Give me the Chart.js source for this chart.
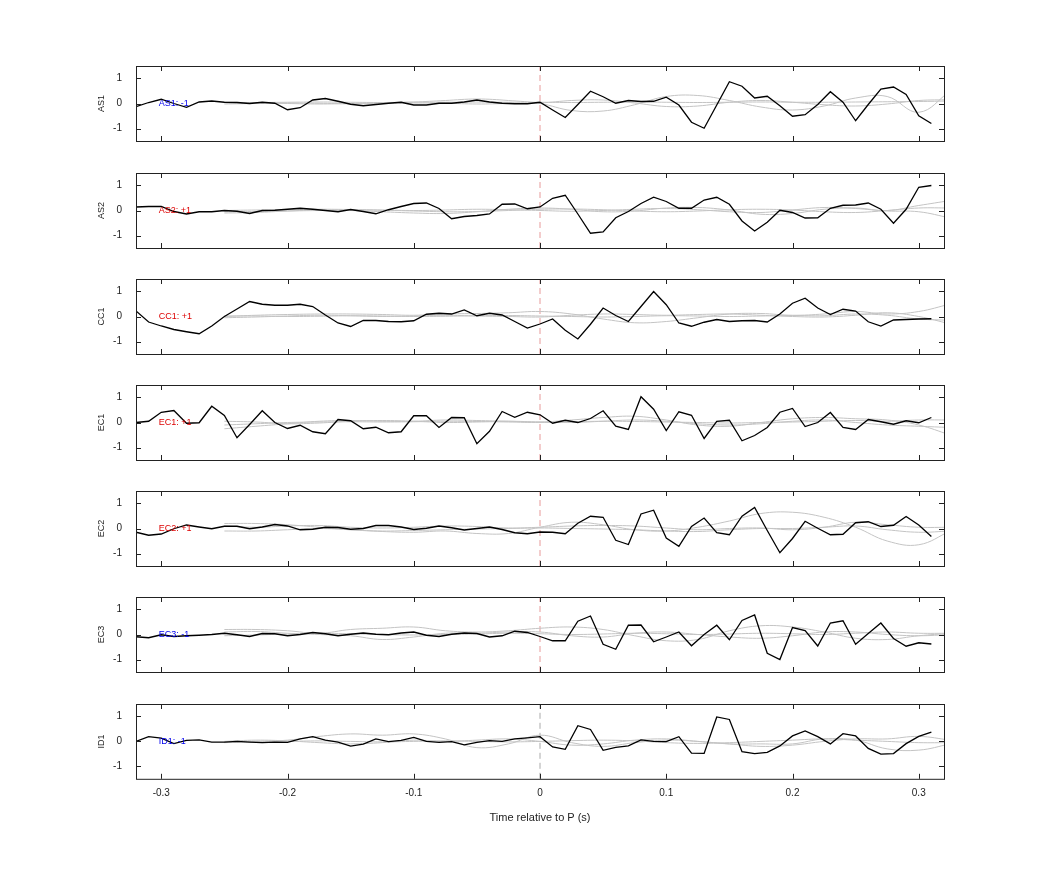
<!DOCTYPE html>
<html>
<head>
<meta charset="utf-8">
<script src="https://cdn.jsdelivr.net/npm/chart.js@4"></script>
<style>
  body { margin: 0; background: #fff; width: 1042px; height: 875px; position: relative; overflow: hidden; }
  .panel { position: absolute; left: 0; width: 1042px; }
</style>
</head>
<body>
<script>
// time axis of the black traces: -0.32 .. 0.31 s, 0.01 s apart
const times = [-0.32,-0.31,-0.30,-0.29,-0.28,-0.27,-0.26,-0.25,-0.24,-0.23,-0.22,-0.21,-0.20,-0.19,-0.18,-0.17,
  -0.16,-0.15,-0.14,-0.13,-0.12,-0.11,-0.10,-0.09,-0.08,-0.07,-0.06,-0.05,-0.04,-0.03,-0.02,-0.01,
  0.00,0.01,0.02,0.03,0.04,0.05,0.06,0.07,0.08,0.09,0.10,0.11,0.12,0.13,0.14,0.15,
  0.16,0.17,0.18,0.19,0.20,0.21,0.22,0.23,0.24,0.25,0.26,0.27,0.28,0.29,0.30,0.31];
// time axis of the grey traces
const greyTimes = [-0.25,-0.225,-0.2,-0.175,-0.15,-0.125,-0.1,-0.075,-0.05,-0.025,0,0.025,
  0.05,0.075,0.1,0.125,0.15,0.175,0.2,0.225,0.25,0.275,0.3,0.325];

const stations = ['AS1','AS2','CC1','EC1','EC2','EC3','ID1'];
const polarity = ['-1','+1','+1','+1','+1','-1','-1'];
const xTicks = [-0.3,-0.2,-0.1,0,0.1,0.2,0.3];
const yTicks = [-1,0,1];

const AS1 = [-0.13,0.04,0.17,0,-0.15,0.06,0.1,0.05,0.04,0,0.05,0.01,-0.25,-0.17,0.14,0.2,
  0.09,-0.03,-0.09,-0.04,0.01,0.05,-0.06,-0.06,0.01,0.01,0.06,0.14,0.06,0.01,-0.01,-0.01,
  0.05,-0.26,-0.56,-0.04,0.49,0.27,0.01,0.12,0.08,0.09,0.25,-0.06,-0.75,-0.99,-0.06,0.87,
  0.69,0.22,0.29,-0.09,-0.51,-0.45,-0.04,0.47,0.05,-0.69,-0.04,0.58,0.66,0.36,-0.49,-0.8];
const AS2 = [0.14,0.16,0.16,-0.04,-0.14,-0.05,-0.05,0,-0.03,-0.12,0,0.01,0.05,0.09,0.05,0,
  -0.05,0.04,-0.04,-0.13,0.03,0.16,0.28,0.3,0.08,-0.33,-0.24,-0.2,-0.14,0.25,0.26,0.07,
  0.14,0.49,0.61,-0.14,-0.91,-0.86,-0.29,-0.04,0.28,0.53,0.36,0.09,0.09,0.42,0.53,0.25,
  -0.42,-0.82,-0.47,0.01,-0.08,-0.3,-0.29,0.09,0.21,0.22,0.3,0.05,-0.51,0.05,0.93,1.0];
const CC1 = [0.22,-0.22,-0.38,-0.52,-0.61,-0.69,-0.38,0,0.3,0.6,0.49,0.45,0.45,0.49,0.4,0.06,
  -0.26,-0.4,-0.16,-0.16,-0.2,-0.21,-0.17,0.09,0.13,0.1,0.26,0.03,0.13,0.06,-0.2,-0.46,
  -0.3,-0.1,-0.55,-0.9,-0.31,0.34,0.04,-0.2,0.4,1.0,0.47,-0.26,-0.39,-0.23,-0.12,-0.2,
  -0.17,-0.16,-0.22,0.1,0.53,0.73,0.34,0.08,0.29,0.22,-0.21,-0.38,-0.14,-0.12,-0.1,-0.09];
const EC1 = [0,0.05,0.41,0.48,-0.03,-0.01,0.65,0.28,-0.61,-0.08,0.47,0,-0.24,-0.11,-0.37,-0.45,
  0.12,0.07,-0.25,-0.19,-0.41,-0.37,0.27,0.27,-0.2,0.2,0.19,-0.85,-0.35,0.44,0.21,0.41,
  0.31,-0.03,0.09,0,0.16,0.47,-0.15,-0.28,1.03,0.53,-0.32,0.43,0.29,-0.64,0.05,0.09,
  -0.73,-0.52,-0.2,0.41,0.56,-0.16,0,0.4,-0.2,-0.28,0.12,0.03,-0.07,0.07,-0.01,0.2];
const EC2 = [-0.15,-0.27,-0.22,-0.01,0.14,0.06,-0.01,0.09,0.09,-0.01,0.06,0.16,0.1,-0.05,-0.03,0.05,
  0.04,-0.03,0,0.12,0.12,0.06,-0.04,0.01,0.1,0.03,-0.06,0,0.06,-0.04,-0.17,-0.21,
  -0.14,-0.15,-0.21,0.21,0.49,0.45,-0.47,-0.64,0.58,0.73,-0.38,-0.71,0.08,0.42,-0.17,-0.25,
  0.49,0.84,-0.08,-0.97,-0.4,0.29,0.01,-0.25,-0.23,0.23,0.27,0.08,0.13,0.48,0.14,-0.32];
const EC3 = [-0.09,-0.13,-0.01,-0.08,-0.05,-0.03,0,0.05,-0.01,-0.08,0.04,0.03,-0.05,0,0.08,0.03,
  -0.05,0.01,0.06,0.01,-0.01,0.06,0.1,-0.03,-0.08,0.01,0.06,0.04,-0.1,-0.05,0.13,0.08,
  -0.08,-0.25,-0.25,0.53,0.74,-0.39,-0.59,0.37,0.38,-0.29,-0.1,0.1,-0.45,0,0.37,-0.21,
  0.56,0.78,-0.75,-1.0,0.28,0.16,-0.46,0.46,0.55,-0.39,0.04,0.46,-0.16,-0.47,-0.33,-0.38];
const ID1 = [0,0.19,0.13,-0.09,0.04,0.06,-0.03,-0.03,0,-0.03,-0.05,-0.03,-0.04,0.1,0.19,0.05,
  -0.03,-0.19,-0.11,0.1,-0.01,0.04,0.16,0,-0.04,-0.01,-0.14,-0.04,0.03,0,0.1,0.14,
  0.19,-0.22,-0.32,0.63,0.48,-0.36,-0.24,-0.18,0.06,0,-0.01,0.19,-0.47,-0.48,0.98,0.88,
  -0.41,-0.49,-0.44,-0.18,0.22,0.42,0.19,-0.1,0.31,0.22,-0.28,-0.51,-0.49,-0.09,0.2,0.37];

// grey traces, three per station
const AS1_g1 = [0.03,0.02,0,-0.02,0,0.03,0.06,0.12,0.18,0.12,0,-0.28,-0.3,-0.05,0.28,0.32,0.12,-0.14,-0.26,-0.1,0.22,0.28,-0.35,0.5];
const AS1_g2 = [-0.02,0,0.02,0.01,-0.01,0,0.02,0.01,-0.02,0,0.02,0.12,0.14,0.02,-0.12,-0.1,0.05,0.12,0.05,-0.05,-0.1,-0.02,0.12,0.15];
const AS1_g3 = [0.05,0.04,0.05,0.06,0.05,0.04,0.05,0.05,0.06,0.05,0.05,0.04,0.05,0.06,0.05,0.04,0.05,0.06,0.05,0.05,0.06,0.07,0.08,0.1];
const AS2_g1 = [-0.1,-0.08,-0.02,0.02,0,-0.05,-0.1,-0.12,-0.05,0.05,0.1,0.05,-0.05,-0.02,0.1,0.12,0.02,-0.15,-0.12,0.05,0.1,0,0.2,0.4];
const AS2_g2 = [0,0.02,0.03,0.05,0.04,0.02,0,0.02,0.05,0.03,0,-0.03,0,0.05,0.08,0.03,-0.05,-0.08,0.02,0.12,0.08,-0.02,-0.05,-0.3];
const AS2_g3 = [-0.05,-0.04,-0.02,0,0.02,0.01,-0.02,-0.05,-0.04,0,0.05,0.06,0.03,-0.02,-0.05,-0.02,0.03,0.05,0.02,-0.05,-0.08,0,0.1,0.1];
const CC1_g1 = [0,0.05,0.08,0.1,0.1,0.08,0.05,0.1,0.12,0.15,0.2,0.1,-0.1,-0.25,-0.2,-0.05,0.1,0.12,0.05,0.1,0.2,0.1,0.2,0.5];
const CC1_g2 = [-0.05,-0.02,0.02,0.05,0.03,0,0.02,0.05,0.02,0,-0.02,0.05,0.1,0.08,0.05,0.08,0.1,0.05,0,-0.02,0.05,0.15,0,-0.3];
const CC1_g3 = [0.02,0.02,0,0.01,0.03,0.02,0,0.01,0.03,0.04,0.02,0,-0.02,0,0.03,0.02,0,0.02,0.04,0.03,0.1,0.05,-0.1,-0.15];
const EC1_g1 = [-0.25,-0.15,-0.05,0.05,0.08,0.05,0.05,0.1,0.08,0.05,0.02,0.1,0.2,0.25,0.1,-0.1,-0.15,0,0.15,0.2,0.15,0.1,-0.1,-0.5];
const EC1_g2 = [0.05,0.02,-0.05,-0.02,0.05,0.08,0.05,0,0.02,0.05,0.02,0,0.05,0.1,0.05,-0.05,-0.1,-0.05,0.05,0.1,0,-0.1,-0.15,-0.2];
const EC1_g3 = [-0.1,-0.05,0,0.02,0.03,0.02,0.03,0.05,0.04,0.02,0,0.03,0.05,0.04,0.02,0,-0.02,0,0.02,0.05,0.08,0.05,0.1,0.1];
const EC2_g1 = [0.2,0.2,0.15,0.05,-0.05,-0.12,-0.15,-0.1,-0.2,-0.2,0.05,0.25,0.15,-0.05,-0.1,0.05,0.3,0.6,0.65,0.45,0.05,-0.5,-0.65,-0.1];
const EC2_g2 = [0.1,0.05,0.1,0.12,0.05,0.02,0.05,0.1,0.08,0.02,0.05,0.1,0.12,0.1,0.02,-0.05,0,0.02,-0.05,0.05,0.25,0.15,0.05,0.05];
const EC2_g3 = [-0.1,-0.1,-0.05,0,-0.05,-0.1,-0.08,-0.05,-0.02,0,0.02,0,-0.02,-0.05,-0.1,-0.12,-0.05,0,0,0.05,0.1,-0.05,-0.15,-0.1];
const EC3_g1 = [0.2,0.2,0.15,0.05,0.2,0.25,0.3,0.15,0.1,0.15,0.25,0.3,0.2,-0.05,-0.25,-0.2,0.15,0.35,0.3,0.1,-0.15,-0.2,-0.05,0.05];
const EC3_g2 = [0.1,0.12,0.05,0,-0.05,-0.2,-0.1,0.05,0.05,0.1,0.1,-0.05,-0.1,0.05,0.1,0,-0.1,-0.15,-0.05,0.1,0.1,0,-0.05,0];
const EC3_g3 = [-0.05,-0.02,0.02,0.05,0.03,0,-0.02,0,0.02,0.05,0.03,0,0.02,0.05,0.03,0,0.02,0.05,0.03,0,0.05,0.1,0.05,0.05];
const ID1_g1 = [-0.05,0,0.05,0.2,0.3,0.25,0.3,0.1,-0.25,-0.1,0.25,-0.05,-0.2,-0.05,0.05,0,-0.1,-0.1,-0.1,0.1,0.05,-0.3,-0.35,-0.1];
const ID1_g2 = [0,0.05,0.02,-0.05,-0.1,-0.05,0.05,0,0.05,0.1,0,-0.15,-0.1,0.05,0.1,0,-0.1,-0.2,-0.15,0,0.1,0.1,0.2,0.05];
const ID1_g3 = [-0.03,-0.02,0,0.02,0,-0.02,0,0.02,0,-0.02,0,0.03,0.05,0.02,-0.05,-0.08,-0.05,0,0.05,0.1,0.05,0,-0.05,-0.05];

const traces = [AS1, AS2, CC1, EC1, EC2, EC3, ID1];
const greys = [[AS1_g1,AS1_g2,AS1_g3],[AS2_g1,AS2_g2,AS2_g3],[CC1_g1,CC1_g2,CC1_g3],
  [EC1_g1,EC1_g2,EC1_g3],[EC2_g1,EC2_g2,EC2_g3],[EC3_g1,EC3_g2,EC3_g3],[ID1_g1,ID1_g2,ID1_g3]];

const panelTops = [66, 173, 279, 385, 491, 597, 704];
const PH = 75;

// box + inward ticks + station label, all placed through the scales
const frame = {
  id: 'frame',
  afterDraw(chart, args, opts) {
    const {ctx, chartArea: a, scales: {x, y}} = chart;
    ctx.save();
    ctx.strokeStyle = '#222';
    ctx.lineWidth = 1;
    ctx.strokeRect(a.left + 0.5, a.top + 0.5, a.right - a.left, a.bottom - a.top);
    ctx.beginPath();
    xTicks.forEach(v => {
      const px = Math.round(x.getPixelForValue(v)) + 0.5;
      ctx.moveTo(px, a.top); ctx.lineTo(px, a.top + 5);
      ctx.moveTo(px, a.bottom); ctx.lineTo(px, a.bottom - 5);
    });
    yTicks.forEach(v => {
      const py = Math.round(y.getPixelForValue(v)) + 0.5;
      ctx.moveTo(a.left, py); ctx.lineTo(a.left + 5, py);
      ctx.moveTo(a.right, py); ctx.lineTo(a.right - 5, py);
    });
    ctx.stroke();
    ctx.font = '9px "Liberation Sans", Arial, sans-serif';
    ctx.fillStyle = opts.color;
    ctx.textBaseline = 'middle';
    ctx.fillText(opts.text, x.getPixelForValue(-0.302), y.getPixelForValue(0));
    ctx.restore();
  }
};

stations.forEach((name, i) => {
  const last = i === stations.length - 1;
  const div = document.createElement('div');
  div.className = 'panel';
  const h = last ? PH + 12 + 50 : PH + 24;
  div.style.top = (panelTops[i] - 12) + 'px';
  div.style.height = h + 'px';
  const cv = document.createElement('canvas');
  div.appendChild(cv);
  document.body.appendChild(div);

  // black trace first so Chart.js paints it on top
  const datasets = [{
    data: times.map((t, k) => ({x: t, y: traces[i][k]})),
    borderColor: '#000', borderWidth: 1.3, pointRadius: 0, tension: 0
  }];
  greys[i].forEach(g => datasets.push({
    data: greyTimes.map((t, k) => ({x: t, y: g[k]})),
    borderColor: '#c4c4c4', borderWidth: 1, pointRadius: 0, tension: 0.4
  }));
  datasets.push({
    data: [{x: 0, y: -1.5}, {x: 0, y: 1.5}],
    borderColor: last ? '#aaaaaa' : '#e79a9a', borderWidth: 1, borderDash: [6, 4], pointRadius: 0
  });

  new Chart(cv, {
    type: 'line',
    data: {datasets},
    plugins: [frame],
    options: {
      responsive: true, maintainAspectRatio: false, animation: false,
      layout: {padding: {left: 96, right: 98, top: 5, bottom: last ? 0 : 5}},
      plugins: {
        legend: {display: false}, tooltip: {enabled: false},
        frame: {text: name + ': ' + polarity[i], color: polarity[i] === '-1' ? '#0000ee' : '#dd0000'}
      },
      scales: {
        x: {
          type: 'linear', min: -0.32, max: 0.32, display: last,
          afterBuildTicks: s => { s.ticks = xTicks.map(v => ({value: v})); },
          grid: {display: false}, border: {display: false},
          ticks: {color: '#222', font: {size: 10, family: '"Liberation Sans", Arial'}, padding: 0,
            callback: v => String(Math.round(v * 10) / 10), maxRotation: 0},
          title: {display: true, text: 'Time relative to P (s)', color: '#222',
            font: {size: 11, family: '"Liberation Sans", Arial'}, padding: {top: 13}}
        },
        y: {
          min: -1.5, max: 1.5,
          afterBuildTicks: s => { s.ticks = yTicks.map(v => ({value: v})); },
          afterFit: s => { s.width = 40; },
          grid: {display: false}, border: {display: false},
          ticks: {color: '#222', font: {size: 10, family: '"Liberation Sans", Arial'}, padding: 6},
          title: {display: true, text: name, color: '#222',
            font: {size: 9, family: '"Liberation Sans", Arial'}, padding: 0}
        }
      }
    }
  });
});
</script>
</body>
</html>
